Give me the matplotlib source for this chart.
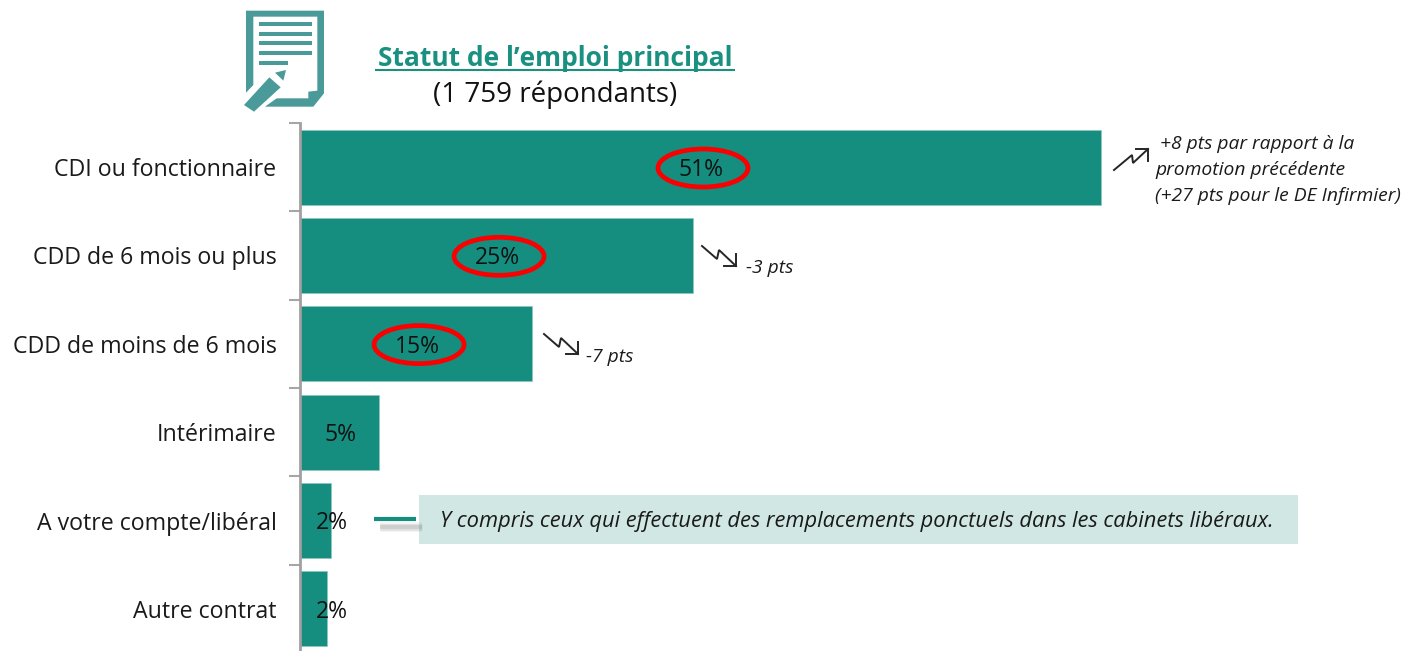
import matplotlib
matplotlib.use('Agg')
import matplotlib.pyplot as plt
from matplotlib.patches import Ellipse, Polygon, Rectangle

plt.rcParams['font.family'] = ['Open Sans', 'DejaVu Sans']

# donnees
categories = ['CDI ou fonctionnaire', 'CDD de 6 mois ou plus', 'CDD de moins de 6 mois',
              'Intérimaire', 'A votre compte/libéral', 'Autre contrat']
valeurs = [51, 25, 14.8, 5, 2, 1.75]
etiquettes = ['51%', '25%', '15%', '5%', '2%', '2%']
cercles = [True, True, True, False, False, False]

titre = 'Statut de l’emploi principal'
sous_titre = '(1 759 répondants)'
note_cdi = [' +8 pts par rapport à la', 'promotion précédente', '(+27 pts pour le DE Infirmier)']
note_encadre = 'Y compris ceux qui effectuent des remplacements ponctuels dans les cabinets libéraux.'

VERT = '#158d7f'
W, H = 1406, 651
fig = plt.figure(figsize=(W / 100, H / 100), dpi=100)

# barres : 15.70 px par point de pourcentage, 88.3 px par ligne
ax = fig.add_axes([300 / W, -2 / H, 1106 / W, 530 / H])
pos = list(range(len(categories)))
ax.barh(pos, valeurs, height=0.85, color=VERT, edgecolor='#8cc8c0', linewidth=0.5)
ax.set_xlim(0, 1106 / 15.70)
ax.set_ylim(5.5, -0.5)
ax.set_yticks(pos)
ax.set_yticklabels(categories, fontsize=16.7, color='#1a1a1a')
for lab in ax.get_yticklabels():
    lab.set_y(lab.get_position()[1])
ax.tick_params(axis='y', which='major', length=0, pad=17)
ax.set_yticks([p - 0.5 for p in pos], minor=True)
ax.tick_params(axis='y', which='minor', length=8, width=1.5, color='#a6a6a6')
ax.xaxis.set_visible(False)
for s in ['top', 'right', 'bottom']:
    ax.spines[s].set_visible(False)
ax.spines['left'].set_color('#a0a0a0')
ax.spines['left'].set_linewidth(2)
ax.patch.set_alpha(0)

# calque en pixels pour les annotations
ov = fig.add_axes([0, 0, 1, 1], zorder=5)
ov.set_xlim(0, W)
ov.set_ylim(H, 0)
ov.axis('off')

for i, (v, e, c) in enumerate(zip(valeurs, etiquettes, cercles)):
    cx = v / 2 if v > 3 else 2
    px = 301 + cx * 15.686
    py = 170 + i * 88.3
    ov.text(px, py, e, ha='center', va='center', fontsize=16.5, color='#111111')
    if c:
        ov.add_patch(Ellipse((px + 2, py - 2), 90, 38, fill=False, ec='#fb0000', lw=3.4))

# titre
ov.text(555, 58, titre, ha='center', va='center', fontsize=19, fontweight='bold', color='#1a9080')
ov.plot([376, 734], [70, 70], color='#1a9080', lw=1.5)
ov.text(555, 95, sous_titre, ha='center', va='center', fontsize=20, color='#111111')

# icone
ICO = '#4a9a9a'
def ic(pts):
    return [(220 + x / 3, y / 3) for x, y in pts]
ov.add_patch(Polygon(ic([(78, 32), (312, 32), (312, 280), (280, 320), (135, 320), (170, 295),
                         (265, 295), (265, 275), (292, 272), (292, 50), (100, 50), (100, 255),
                         (78, 278)]), fc=ICO, ec='none'))
for y, x2 in [(72, 275), (101, 275), (129, 275), (160, 275), (190, 205)]:
    ov.add_patch(Polygon(ic([(118, y - 6), (x2, y - 6), (x2, y + 6), (118, y + 6)]), fc=ICO, ec='none'))
ov.add_patch(Polygon(ic([(72, 315), (148, 232), (182, 262), (102, 335)]), fc=ICO, ec='none'))
ov.add_patch(Polygon(ic([(165, 218), (198, 210), (190, 242)]), fc=ICO, ec='none'))

# fleches
def fleche(pts, tete):
    ov.plot(*zip(*pts), color='#262626', lw=1.4, solid_joinstyle='miter')
    ov.plot(*zip(*tete), color='#262626', lw=1.4, solid_joinstyle='miter')

fleche([(1114, 170), (1132, 155), (1133, 163), (1148, 149)], [(1136, 149), (1148, 149), (1148, 161)])
fleche([(702, 246), (717, 259), (719, 250), (736, 266)], [(724, 266), (736, 266), (736, 254)])
fleche([(544, 334), (559, 347), (561, 338), (578, 354)], [(566, 354), (578, 354), (578, 342)])

# notes
for y, t in zip([144, 170, 196], note_cdi):
    ov.text(1155, y, t, ha='left', va='center', fontsize=13.9, style='italic', color='#1a1a1a')
ov.text(746, 268, '-3 pts', ha='left', va='center', fontsize=13.9, style='italic', color='#1a1a1a')
ov.text(586, 357, '-7 pts', ha='left', va='center', fontsize=13.9, style='italic', color='#1a1a1a')

# encadre
ov.add_patch(Rectangle((419, 495), 879, 49, fc='#d0e7e3', ec='none'))
ov.text(440, 521, note_encadre, ha='left', va='center', fontsize=15.75, style='italic', color='#1a1a1a')
for lw, a in [(7, 0.08), (5, 0.12), (3, 0.18)]:
    ov.plot([380, 422], [527, 527], color='#707070', lw=lw, alpha=a, solid_capstyle='butt')
ov.plot([374, 416], [519, 519], color=VERT, lw=3, solid_capstyle='butt')

fig.savefig('out.png', dpi=100)
